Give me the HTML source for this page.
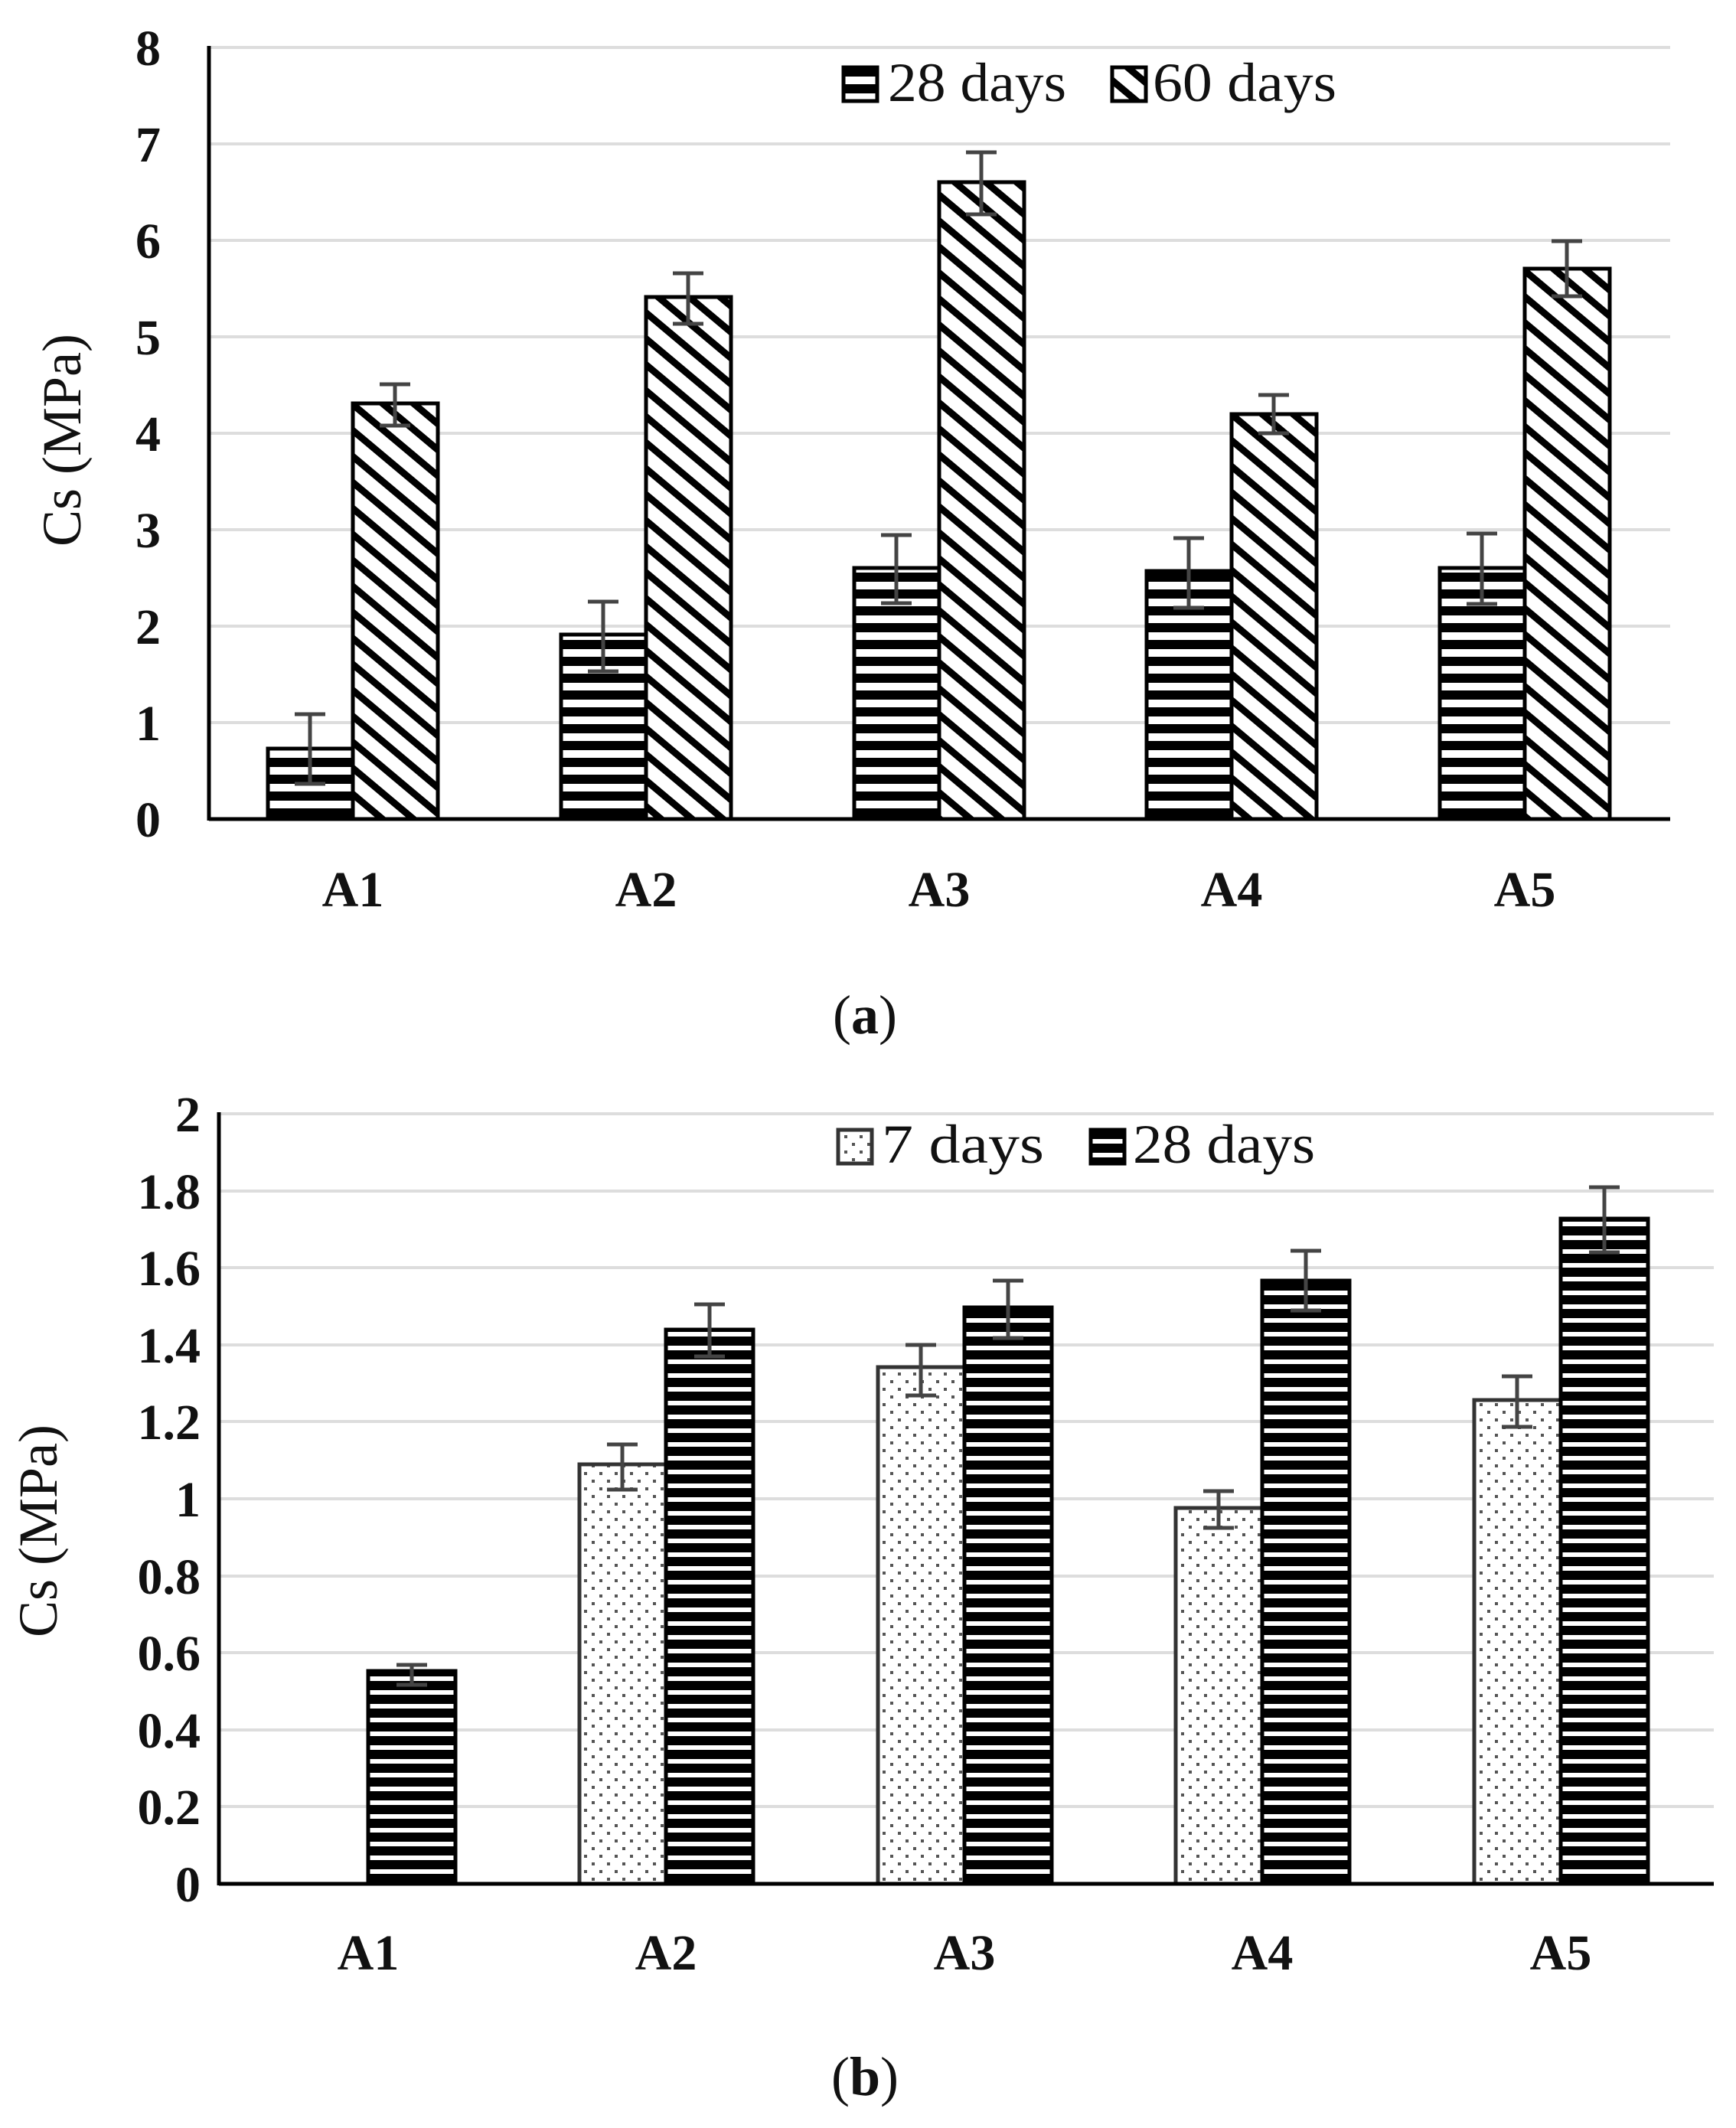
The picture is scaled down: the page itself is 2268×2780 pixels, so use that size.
<!DOCTYPE html>
<html><head><meta charset="utf-8"><style>
html,body{margin:0;padding:0;background:#fff}
svg{display:block}
text{font-family:"Liberation Serif",serif;fill:#111}
</style></head><body>
<svg width="2268" height="2780" viewBox="0 0 2268 2780" xmlns="http://www.w3.org/2000/svg" font-family="Liberation Serif, serif">
<defs>
<pattern id="hA" patternUnits="userSpaceOnUse" width="40" height="22"><rect width="40" height="22" fill="#fff"/><rect width="40" height="12" fill="#000"/></pattern>
<pattern id="hB" patternUnits="userSpaceOnUse" width="40" height="18"><rect width="40" height="18" fill="#fff"/><rect width="40" height="12" fill="#000"/></pattern>
<pattern id="dg" patternUnits="userSpaceOnUse" width="40" height="26" patternTransform="rotate(40)"><rect width="40" height="26" fill="#fff"/><rect width="40" height="9" fill="#000"/></pattern>
<pattern id="dt" patternUnits="userSpaceOnUse" width="20" height="20"><rect width="20" height="20" fill="#fff"/><rect x="3" y="3" width="4" height="4" fill="#555"/><rect x="13" y="13" width="4" height="4" fill="#555"/></pattern>
</defs>

<!-- ===== Chart A ===== -->
<g stroke="#ddd" stroke-width="4">
<line x1="273" y1="62" x2="2182" y2="62"/><line x1="273" y1="188" x2="2182" y2="188"/><line x1="273" y1="314" x2="2182" y2="314"/><line x1="273" y1="440" x2="2182" y2="440"/><line x1="273" y1="566" x2="2182" y2="566"/><line x1="273" y1="692" x2="2182" y2="692"/><line x1="273" y1="818" x2="2182" y2="818"/><line x1="273" y1="944" x2="2182" y2="944"/>
</g>
<g font-size="66" font-weight="bold" text-anchor="end">
<text x="210" y="85">8</text><text x="210" y="211">7</text><text x="210" y="337">6</text><text x="210" y="463">5</text><text x="210" y="589">4</text><text x="210" y="715">3</text><text x="210" y="841">2</text><text x="210" y="967">1</text><text x="210" y="1093">0</text>
</g>
<text transform="translate(105,575) rotate(-90)" font-size="72" text-anchor="middle" font-family="Liberation Serif, serif">Cs (MPa)</text>
<g stroke="#000" stroke-width="5">
<rect x="350" y="978" width="111" height="92" fill="url(#hA)"/>
<rect x="461" y="527" width="111" height="543" fill="url(#dg)"/>
<rect x="733" y="829" width="111" height="241" fill="url(#hA)"/>
<rect x="844" y="388" width="111" height="682" fill="url(#dg)"/>
<rect x="1116" y="742" width="111" height="328" fill="url(#hA)"/>
<rect x="1227" y="238" width="111" height="832" fill="url(#dg)"/>
<rect x="1498" y="746" width="111" height="324" fill="url(#hA)"/>
<rect x="1609" y="541" width="111" height="529" fill="url(#dg)"/>
<rect x="1881" y="742" width="111" height="328" fill="url(#hA)"/>
<rect x="1992" y="351" width="111" height="719" fill="url(#dg)"/>
</g>
<g stroke="#444" stroke-width="5" fill="none">
<path d="M405 933V1024M385 933H425M385 1024H425"/>
<path d="M516 502V556M496 502H536M496 556H536"/>
<path d="M788 786V877M768 786H808M768 877H808"/>
<path d="M899 357V423M879 357H919M879 423H919"/>
<path d="M1171 699V788M1151 699H1191M1151 788H1191"/>
<path d="M1282 199V280M1262 199H1302M1262 280H1302"/>
<path d="M1553 703V794M1533 703H1573M1533 794H1573"/>
<path d="M1664 516V566M1644 516H1684M1644 566H1684"/>
<path d="M1936 697V789M1916 697H1956M1916 789H1956"/>
<path d="M2047 315V387M2027 315H2067M2027 387H2067"/>
</g>
<line x1="273" y1="1070" x2="2182" y2="1070" stroke="#000" stroke-width="5"/>
<line x1="273" y1="60" x2="273" y2="1072" stroke="#000" stroke-width="5"/>
<g font-size="66" font-weight="bold" text-anchor="middle">
<text x="461" y="1184">A1</text><text x="844" y="1184">A2</text><text x="1227" y="1184">A3</text><text x="1609" y="1184">A4</text><text x="1992" y="1184">A5</text>
</g>
<!-- legend A -->
<rect x="1102" y="88" width="44" height="44" fill="url(#hA)" stroke="#000" stroke-width="5"/>
<text x="1160" y="132" font-size="72" textLength="233" lengthAdjust="spacingAndGlyphs">28 days</text>
<rect x="1453" y="88" width="44" height="44" fill="url(#dg)" stroke="#000" stroke-width="5"/>
<text x="1506" y="132" font-size="72" textLength="240" lengthAdjust="spacingAndGlyphs">60 days</text>
<text x="1130" y="1350" font-size="72" text-anchor="middle">(<tspan font-weight="bold">a</tspan>)</text>

<!-- ===== Chart B ===== -->
<g stroke="#ddd" stroke-width="4">
<line x1="286" y1="1455" x2="2239" y2="1455"/><line x1="286" y1="1556" x2="2239" y2="1556"/><line x1="286" y1="1656" x2="2239" y2="1656"/><line x1="286" y1="1757" x2="2239" y2="1757"/><line x1="286" y1="1857" x2="2239" y2="1857"/><line x1="286" y1="1958" x2="2239" y2="1958"/><line x1="286" y1="2059" x2="2239" y2="2059"/><line x1="286" y1="2159" x2="2239" y2="2159"/><line x1="286" y1="2260" x2="2239" y2="2260"/><line x1="286" y1="2360" x2="2239" y2="2360"/>
</g>
<g font-size="66" font-weight="bold" text-anchor="end">
<text x="262" y="1478">2</text><text x="262" y="1579">1.8</text><text x="262" y="1679">1.6</text><text x="262" y="1780">1.4</text><text x="262" y="1880">1.2</text><text x="262" y="1981">1</text><text x="262" y="2082">0.8</text><text x="262" y="2182">0.6</text><text x="262" y="2283">0.4</text><text x="262" y="2383">0.2</text><text x="262" y="2484">0</text>
</g>
<text transform="translate(74,2000) rotate(-90)" font-size="72" text-anchor="middle" font-family="Liberation Serif, serif">Cs (MPa)</text>
<g stroke-width="5">
<rect x="481" y="2183" width="114" height="278" fill="url(#hB)" stroke="#000"/>
<rect x="757" y="1913" width="113" height="548" fill="url(#dt)" stroke="#333"/>
<rect x="870" y="1737" width="114" height="724" fill="url(#hB)" stroke="#000"/>
<rect x="1147" y="1786" width="113" height="675" fill="url(#dt)" stroke="#333"/>
<rect x="1260" y="1708" width="114" height="753" fill="url(#hB)" stroke="#000"/>
<rect x="1536" y="1970" width="113" height="491" fill="url(#dt)" stroke="#333"/>
<rect x="1649" y="1673" width="114" height="788" fill="url(#hB)" stroke="#000"/>
<rect x="1926" y="1829" width="113" height="632" fill="url(#dt)" stroke="#333"/>
<rect x="2039" y="1592" width="114" height="869" fill="url(#hB)" stroke="#000"/>
</g>
<g stroke="#444" stroke-width="5" fill="none">
<path d="M538 2175V2201M518 2175H558M518 2201H558"/>
<path d="M813 1887V1946M793 1887H833M793 1946H833"/>
<path d="M927 1704V1772M907 1704H947M907 1772H947"/>
<path d="M1203 1757V1823M1183 1757H1223M1183 1823H1223"/>
<path d="M1317 1673V1748M1297 1673H1337M1297 1748H1337"/>
<path d="M1592 1948V1996M1572 1948H1612M1572 1996H1612"/>
<path d="M1706 1634V1712M1686 1634H1726M1686 1712H1726"/>
<path d="M1982 1798V1864M1962 1798H2002M1962 1864H2002"/>
<path d="M2096 1551V1636M2076 1551H2116M2076 1636H2116"/>
</g>
<line x1="286" y1="2461" x2="2239" y2="2461" stroke="#000" stroke-width="5"/>
<line x1="286" y1="1453" x2="286" y2="2463" stroke="#000" stroke-width="5"/>
<g font-size="66" font-weight="bold" text-anchor="middle">
<text x="481" y="2573">A1</text><text x="870" y="2573">A2</text><text x="1260" y="2573">A3</text><text x="1649" y="2573">A4</text><text x="2039" y="2573">A5</text>
</g>
<!-- legend B -->
<rect x="1095" y="1476" width="44" height="44" fill="url(#dt)" stroke="#333" stroke-width="5"/>
<text x="1152" y="1519" font-size="72" textLength="212" lengthAdjust="spacingAndGlyphs">7 days</text>
<rect x="1425" y="1476" width="44" height="44" fill="url(#hB)" stroke="#000" stroke-width="5"/>
<text x="1480" y="1519" font-size="72" textLength="238" lengthAdjust="spacingAndGlyphs">28 days</text>
<text x="1130" y="2737" font-size="72" text-anchor="middle">(<tspan font-weight="bold">b</tspan>)</text>
</svg>
</body></html>
